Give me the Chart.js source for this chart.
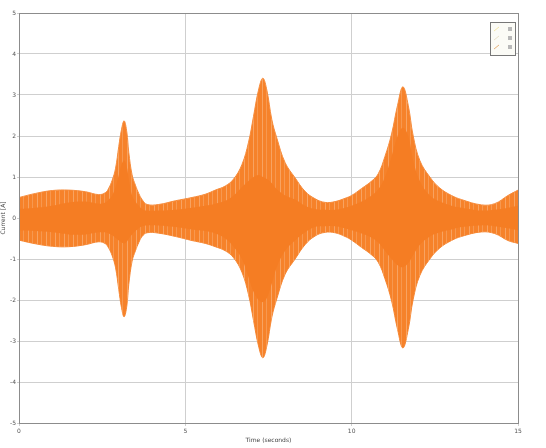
<!DOCTYPE html>
<html>
<head>
<meta charset="utf-8">
<script src="https://cdn.jsdelivr.net/npm/chart.js@4/dist/chart.umd.min.js"></script>
<style>
  html, body { margin: 0; padding: 0; background: #fff; }
  #wrap { position: relative; width: 546px; height: 448px; }
</style>
</head>
<body>
<div id="wrap"><canvas id="c" width="546" height="448"></canvas></div>
<script>
// Sample times (s) of the current envelope
const timeS = [0,0.5,1.0,1.5,2.0, 2.4,2.6,2.7,2.8,2.9, 3.0,3.08,3.16,3.24,3.3, 3.4,3.5,3.6,3.7,3.85,
  4.2,4.7,5.2,5.6,5.9, 6.2,6.45,6.7,6.9,7.05, 7.2,7.33,7.45,7.6,7.75, 8.0,8.3,8.6,8.9,9.2,
  9.5,9.8,10.0,10.3,10.6, 10.8,11.0,11.2,11.38,11.54, 11.7,11.85,12.05,12.35,12.65, 13.0,13.3,13.9,14.3,14.7, 15.0];

// Peak current (A), positive and negative swing
const peakUpper = [0.50,0.60,0.67,0.68,0.64, 0.57,0.62,0.73,0.92,1.20, 1.75,2.15,2.37,2.10,1.60, 1.05,0.80,0.60,0.45,0.33,
  0.33,0.42,0.50,0.58,0.68, 0.78,0.95,1.30,1.85,2.48, 3.12,3.41,3.12,2.40,1.95, 1.35,0.98,0.65,0.47,0.38,
  0.40,0.48,0.55,0.72,0.90, 1.08,1.50,2.05,2.75,3.20, 2.75,2.00,1.40,1.00,0.73, 0.55,0.45,0.32,0.35,0.55, 0.68];
const peakLower = [-0.54,-0.63,-0.69,-0.70,-0.65, -0.58,-0.63,-0.74,-0.92,-1.20, -1.75,-2.18,-2.41,-2.15,-1.62, -1.05,-0.80,-0.60,-0.45,-0.36,
  -0.37,-0.45,-0.55,-0.62,-0.70, -0.80,-0.97,-1.32,-1.87,-2.50, -3.12,-3.41,-3.12,-2.42,-1.97, -1.37,-1.00,-0.65,-0.44,-0.35,
  -0.36,-0.45,-0.54,-0.72,-0.90, -1.08,-1.48,-2.02,-2.72,-3.17, -2.72,-1.98,-1.40,-1.00,-0.73, -0.55,-0.45,-0.34,-0.38,-0.55, -0.62];

// Dense core of the oscillation (A)
const coreUpper = [0.22,0.25,0.30,0.38,0.40, 0.35,0.38,0.45,0.55,0.75, 1.05,1.30,1.40,1.25,0.95, 0.55,0.40,0.30,0.22,0.18,
  0.18,0.20,0.25,0.30,0.35, 0.42,0.55,0.75,0.90,1.00, 1.05,1.00,0.95,0.85,0.70, 0.55,0.45,0.30,0.22,0.20,
  0.20,0.25,0.30,0.40,0.55, 0.70,1.00,1.50,2.00,2.20, 2.00,1.40,0.90,0.55,0.40, 0.30,0.25,0.18,0.20,0.25, 0.30];
const coreLower = [-0.30,-0.32,-0.35,-0.40,-0.40, -0.35,-0.35,-0.38,-0.42,-0.48, -0.55,-0.60,-0.62,-0.58,-0.50, -0.40,-0.32,-0.25,-0.20,-0.18,
  -0.18,-0.22,-0.28,-0.32,-0.38, -0.50,-0.70,-1.00,-1.45,-1.80, -2.00,-2.05,-1.95,-1.60,-1.20, -0.80,-0.55,-0.35,-0.22,-0.20,
  -0.20,-0.25,-0.30,-0.38,-0.48, -0.60,-0.80,-1.00,-1.15,-1.20, -1.10,-0.90,-0.65,-0.45,-0.35, -0.28,-0.22,-0.18,-0.20,-0.25, -0.30];

const xTicks = [0, 5, 10, 15];
const yTicks = [-5, -4, -3, -2, -1, 0, 1, 2, 3, 4, 5];

const ORANGE = 'rgb(245,125,35)';

// Striped fill for the oscillating band
function stripePattern() {
  const p = document.createElement('canvas');
  p.width = 9; p.height = 8;
  const g = p.getContext('2d');
  g.fillStyle = 'rgb(246,130,42)';
  g.fillRect(0, 0, 9, 8);
  g.fillStyle = 'rgba(250,185,135,0.6)';
  g.fillRect(1, 0, 1, 8);
  g.fillStyle = 'rgba(250,185,135,0.4)';
  g.fillRect(5, 0, 1, 8);
  return g.createPattern(p, 'repeat');
}

const pts = arr => timeS.map((t, i) => ({ x: t, y: arr[i] }));

// Frame around the plot area and the small legend box
const framePlugin = {
  id: 'frame',
  afterDraw(chart) {
    const { ctx, chartArea: a } = chart;
    ctx.save();
    ctx.strokeStyle = '#8c8c8c';
    ctx.lineWidth = 1;
    ctx.strokeRect(a.left + 0.5, a.top + 0.5, a.right - a.left, a.bottom - a.top);
    // legend box
    const lx = 490, ly = 22, lw = 25, lh = 33;
    ctx.fillStyle = '#fbfbf6';
    ctx.fillRect(lx, ly, lw, lh);
    ctx.strokeStyle = '#777';
    ctx.strokeRect(lx + 0.5, ly + 0.5, lw, lh);
    const cols = ['#f3e6a8', '#e8e0c8', '#e6b27a'];
    for (let i = 0; i < 3; i++) {
      const yy = ly + 7 + i * 9;
      ctx.strokeStyle = cols[i];
      ctx.beginPath(); ctx.moveTo(lx + 4, yy + 2); ctx.lineTo(lx + 9, yy - 2); ctx.stroke();
      ctx.fillStyle = '#b8b8b8';
      ctx.fillRect(lx + 18, yy - 2, 4, 4);
    }
    ctx.restore();
  }
};

const band = { borderWidth: 0, pointRadius: 0, tension: 0.4 };

new Chart(document.getElementById('c'), {
  type: 'line',
  data: {
    datasets: [
      { ...band, label: 'core+', data: pts(coreUpper), fill: '+1', backgroundColor: ORANGE, order: 0 },
      { ...band, label: 'core-', data: pts(coreLower), fill: false, order: 0 },
      { ...band, label: 'peak+', data: pts(peakUpper), fill: '+1', backgroundColor: stripePattern(), borderColor: 'rgb(246,140,60)', borderWidth: 1, order: 1 },
      { ...band, label: 'peak-', data: pts(peakLower), fill: false, borderColor: 'rgb(246,140,60)', borderWidth: 1, order: 1 }
    ]
  },
  options: {
    responsive: false,
    animation: false,
    devicePixelRatio: 1,
    layout: { padding: { top: 13, right: 28, left: 0, bottom: 0 } },
    plugins: { legend: { display: false }, tooltip: { enabled: false } },
    scales: {
      x: {
        type: 'linear', min: 0, max: 15,
        afterBuildTicks: s => { s.ticks = xTicks.map(v => ({ value: v })); },
        afterFit: s => { s.height = 25; },
        grid: { color: '#cfcfcf', tickLength: 3, drawTicks: true },
        border: { color: '#8c8c8c' },
        ticks: { font: { family: 'DejaVu Sans', size: 6 }, color: '#555', padding: 2, maxRotation: 0 },
        title: { display: true, text: 'Time (seconds)', font: { family: 'DejaVu Sans', size: 6 }, color: '#444', padding: { top: 0, bottom: 4 } }
      },
      y: {
        type: 'linear', min: -5, max: 5,
        afterBuildTicks: s => { s.ticks = yTicks.map(v => ({ value: v })); },
        afterFit: s => { s.width = 19; },
        grid: { color: '#cfcfcf', tickLength: 2, drawTicks: true },
        border: { color: '#8c8c8c' },
        ticks: { font: { family: 'DejaVu Sans', size: 6 }, color: '#555', padding: 1 },
        title: { display: true, text: 'Current [A]', font: { family: 'DejaVu Sans', size: 6 }, color: '#444', padding: { top: 0, bottom: 0 } }
      }
    }
  },
  plugins: [framePlugin]
});
</script>
</body>
</html>
